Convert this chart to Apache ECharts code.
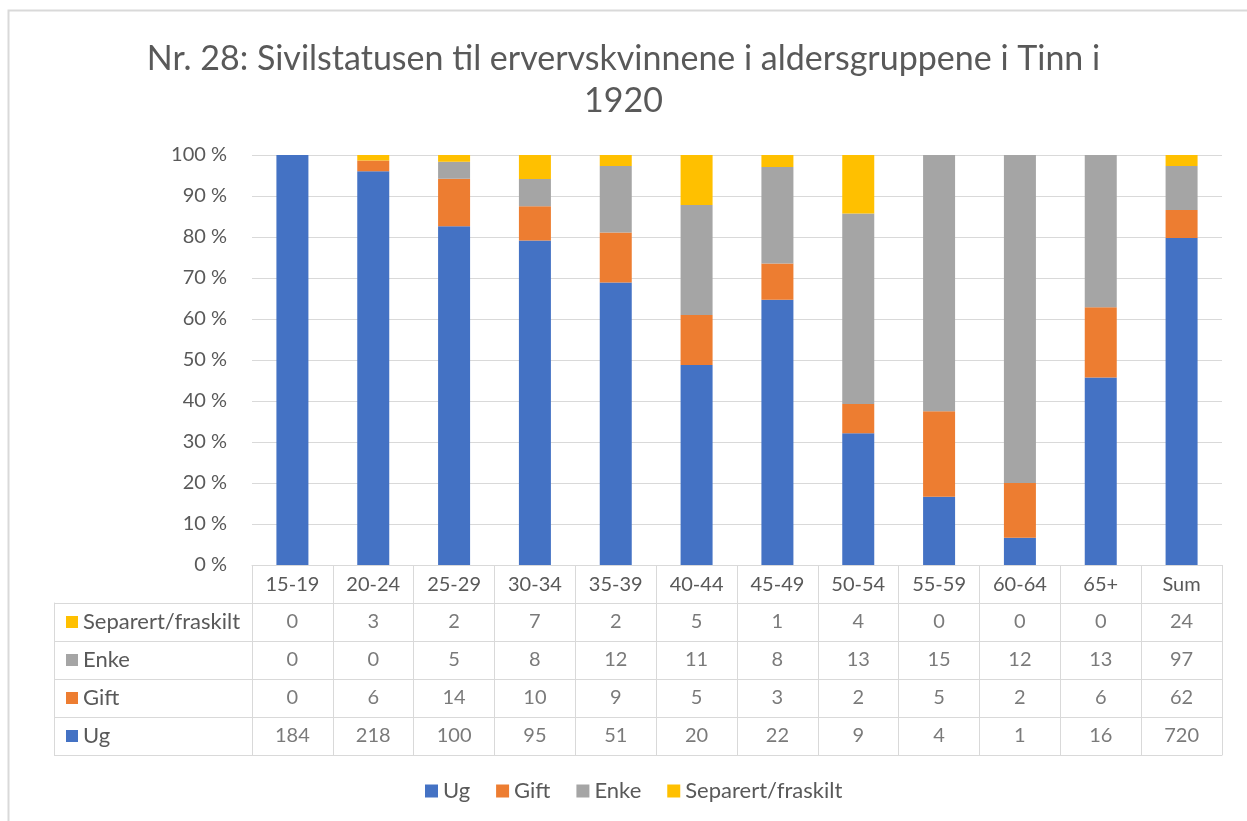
<!DOCTYPE html>
<html>
<head>
<meta charset="utf-8">
<script src="https://cdn.jsdelivr.net/npm/echarts@6/dist/echarts.min.js"></script>
<style>
  html, body { margin: 0; padding: 0; background: #fff; }
  #chart { width: 1247px; height: 821px; }
</style>
</head>
<body>
<div id="chart"></div>
<script>
// kategorier (aldersgrupper)
const categories = ['15-19','20-24','25-29','30-34','35-39','40-44','45-49','50-54','55-59','60-64','65+','Sum'];
// antall per sivilstatus
const ug       = [184, 218, 100, 95, 51, 20, 22, 9, 4, 1, 16, 720];
const gift     = [0, 6, 14, 10, 9, 5, 3, 2, 5, 2, 6, 62];
const enke     = [0, 0, 5, 8, 12, 11, 8, 13, 15, 12, 13, 97];
const separert = [0, 3, 2, 7, 2, 5, 1, 4, 0, 0, 0, 24];
const yTicks   = [0, 10, 20, 30, 40, 50, 60, 70, 80, 90, 100];

const textColor = '#595959';
const lineColor = '#d9d9d9';
const font = 'Lato, "Open Sans", sans-serif';

const seriesDefs = [
  { name: 'Ug', data: ug, color: '#4472C4' },
  { name: 'Gift', data: gift, color: '#ED7D31' },
  { name: 'Enke', data: enke, color: '#A5A5A5' },
  { name: 'Separert/fraskilt', data: separert, color: '#FFC000' }
];
// rader i datatabellen, ovenfra og ned
const tableRows = ['Separert/fraskilt', 'Enke', 'Gift', 'Ug'];

const totals = categories.map((c, i) => ug[i] + gift[i] + enke[i] + separert[i]);

// tekstceller i tabellen
const cells = [];
tableRows.forEach((row, r) => {
  const arr = seriesDefs.find(s => s.name === row).data;
  arr.forEach((v, i) => cells.push([i, r, v]));
});

const rich = {};
seriesDefs.forEach((s, k) => {
  rich['sq' + k] = { width: 12, height: 12, backgroundColor: s.color };
});
rich.txt = { color: textColor, fontSize: 22, fontFamily: font, padding: [0, 0, 0, 5] };

let myCharts = echarts.init(document.getElementById('chart'));
myCharts.setOption({
  animation: false,
  textStyle: { fontFamily: font },
  title: {
    text: 'Nr. 28: Sivilstatusen til ervervskvinnene i aldersgruppene i Tinn i\n1920',
    left: 'center',
    top: 33,
    textStyle: { color: textColor, fontSize: 34, fontWeight: 'normal', lineHeight: 42, fontFamily: font }
  },
  legend: {
    bottom: 14,
    left: 420,
    itemWidth: 13,
    itemHeight: 13,
    itemGap: 26,
    icon: 'rect',
    textStyle: { color: textColor, fontSize: 22 },
    data: seriesDefs.map(s => s.name)
  },
  graphic: [{
    type: 'rect',
    shape: { x: 8.5, y: 10.5, width: 1260, height: 830 },
    style: { fill: 'none', stroke: lineColor, lineWidth: 2 },
    silent: true
  }],
  grid: [
    { left: 252, right: 25, top: 155, height: 410 },
    { left: 252, right: 25, top: 603, height: 152 }
  ],
  xAxis: [
    {
      type: 'category', gridIndex: 0, data: categories,
      axisLine: { lineStyle: { color: lineColor } },
      axisTick: { show: true, length: 38, lineStyle: { color: lineColor } },
      axisLabel: { color: textColor, fontSize: 20, margin: 10 }
    },
    {
      type: 'category', gridIndex: 1, data: categories,
      axisLine: { show: false }, axisTick: { show: false }, axisLabel: { show: false },
      splitLine: { show: true, lineStyle: { color: lineColor } }
    }
  ],
  yAxis: [
    {
      type: 'value', gridIndex: 0, min: 0, max: 100, interval: 10,
      axisLine: { show: false }, axisTick: { show: false },
      axisLabel: { color: textColor, fontSize: 20, margin: 25, formatter: v => yTicks.includes(v) ? v + ' %' : '' },
      splitLine: { lineStyle: { color: lineColor } }
    },
    {
      type: 'category', gridIndex: 1, data: tableRows, inverse: true,
      axisLine: { lineStyle: { color: lineColor } },
      axisTick: { show: true, length: 198, lineStyle: { color: lineColor } },
      axisLabel: {
        align: 'left', margin: 186,
        formatter: v => '{sq' + seriesDefs.findIndex(s => s.name === v) + '|}{txt|' + v + '}',
        rich: rich
      },
      splitLine: { show: true, lineStyle: { color: lineColor } }
    },
    {
      type: 'category', gridIndex: 1, data: tableRows, inverse: true, position: 'left', offset: 198,
      axisLine: { show: true, lineStyle: { color: lineColor } },
      axisTick: { show: false }, axisLabel: { show: false }
    },
    {
      type: 'category', gridIndex: 1, data: tableRows, inverse: true, position: 'right',
      axisLine: { show: true, lineStyle: { color: lineColor } },
      axisTick: { show: false }, axisLabel: { show: false }
    }
  ],
  series: seriesDefs.map(s => ({
    name: s.name,
    type: 'bar',
    stack: 'total',
    xAxisIndex: 0, yAxisIndex: 0,
    barWidth: 32,
    itemStyle: { color: s.color },
    data: s.data.map((v, i) => totals[i] ? v / totals[i] * 100 : 0)
  })).concat([{
    name: 'tabell',
    type: 'scatter',
    xAxisIndex: 1, yAxisIndex: 1,
    symbolSize: 2,
    itemStyle: { color: 'rgba(255,255,255,0)' },
    silent: true,
    label: {
      show: true, position: 'inside', color: textColor, fontSize: 20,
      formatter: p => String(p.value[2])
    },
    data: cells
  }])
});
</script>
</body>
</html>
